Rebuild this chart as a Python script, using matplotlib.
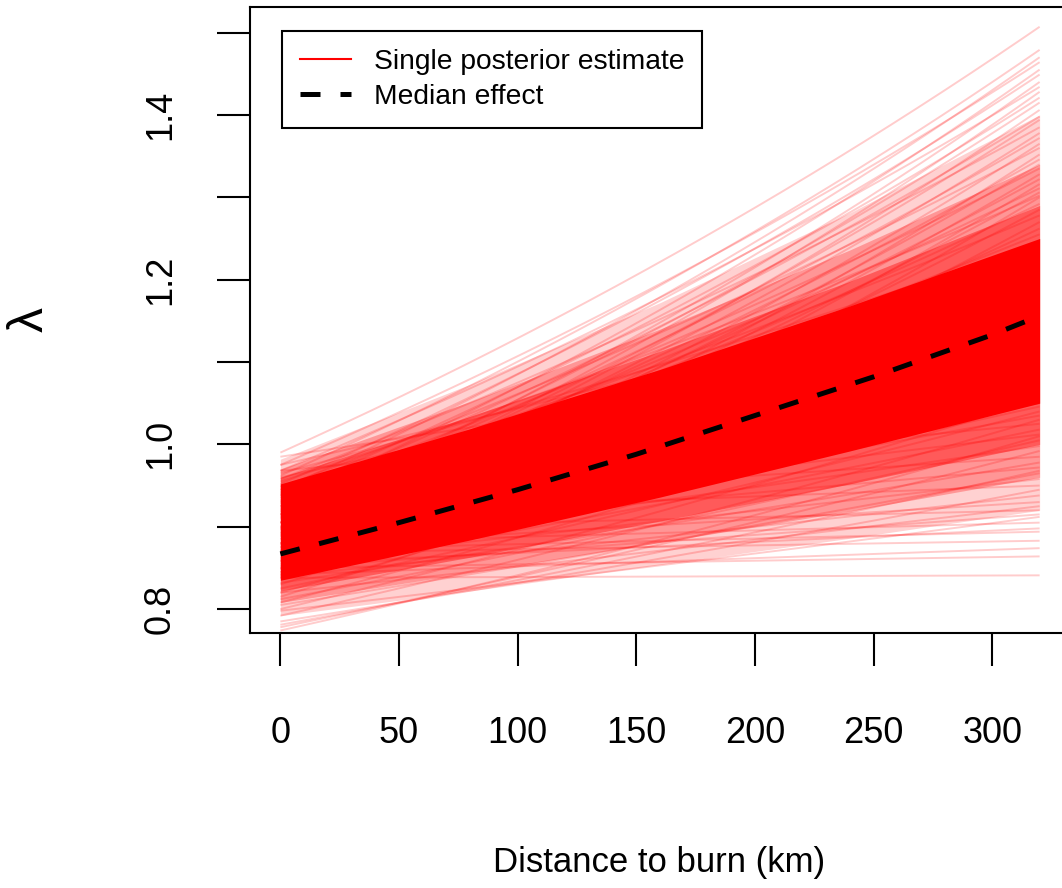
import numpy as np
import matplotlib
matplotlib.use("Agg")
import matplotlib.pyplot as plt
from matplotlib.lines import Line2D

plt.rcParams['font.family'] = ['Liberation Sans', 'DejaVu Sans']

# posterior draws, given as lambda at distance 0 and at distance 320 km
lam_start = [
    0.990, 0.962, 0.945, 0.975, 0.930, 0.952, 0.915, 0.968, 0.905, 0.940, 0.922, 0.898, 0.935, 0.910,
    0.958, 0.900, 0.925, 0.885, 0.948, 0.870, 0.912, 0.893, 0.938, 0.878, 0.905, 0.862, 0.928, 0.888,
    0.955, 0.848, 0.918, 0.875, 0.942, 0.858, 0.896, 0.932,
    0.965, 0.842, 0.905, 0.975, 0.852, 0.920, 0.830, 0.960, 0.880, 0.815, 0.945, 0.868, 0.985, 0.820,
    0.900, 0.838, 0.950, 0.808, 0.890, 0.845, 0.968, 0.800, 0.915, 0.860,
    0.825, 0.880, 0.792, 0.938, 0.845, 0.905, 0.812, 0.870, 0.778, 0.925, 0.832, 0.892, 0.805, 0.858,
    0.915, 0.785, 0.840, 0.875, 0.820, 0.898, 0.850, 0.798,
    0.838, 0.850, 0.842, 0.868, 0.872, 0.855, 0.880, 0.774, 0.781,
]
lam_end = [
    1.507, 1.479, 1.470, 1.464, 1.455, 1.449, 1.440, 1.434, 1.428, 1.421, 1.415, 1.406, 1.398, 1.394,
    1.385, 1.378, 1.372, 1.365, 1.360, 1.352, 1.346, 1.340, 1.335, 1.328, 1.322, 1.316, 1.311, 1.306,
    1.302, 1.300, 1.292, 1.285, 1.278, 1.270, 1.262, 1.255,
    1.245, 1.238, 1.225, 1.212, 1.205, 1.196, 1.188, 1.180, 1.170, 1.162, 1.150, 1.142, 1.135, 1.128,
    1.118, 1.105, 1.095, 1.088, 1.078, 1.068, 1.060, 1.055, 1.050, 1.046,
    1.040, 1.035, 1.030, 1.025, 1.018, 1.012, 1.005, 0.998, 0.992, 0.985, 0.978, 0.972, 0.965, 0.958,
    0.950, 0.945, 0.938, 0.930, 0.925, 0.920, 0.915, 0.912,
    0.841, 0.864, 0.874, 0.883, 0.894, 0.898, 0.905, 1.010, 0.968,
]
x_max = 320

# density bands of the posterior cloud, from the solid core outwards
band_x = [0, 80, 160, 240, 320]
core_lo = [0.835, 0.884, 0.936, 0.992, 1.050]
core_hi = [0.952, 1.019, 1.091, 1.168, 1.250]
b1_lo = [0.822, 0.863, 0.907, 0.952, 1.000]
b1_hi = [0.960, 1.034, 1.113, 1.198, 1.290]
b2_lo = [0.808, 0.844, 0.881, 0.919, 0.960]
b2_hi = [0.970, 1.052, 1.140, 1.236, 1.340]
b3_lo = [0.792, 0.822, 0.854, 0.886, 0.920]
b3_hi = [0.982, 1.073, 1.172, 1.281, 1.400]

# median effect
med_x = [0, 50, 100, 150, 200, 250, 300, 320]
med_y = [0.867, 0.905, 0.945, 0.988, 1.035, 1.082, 1.133, 1.156]

fig = plt.figure(figsize=(10.62, 8.88), dpi=100)
W, H = 1062, 888
ax_l, ax_r, ax_t, ax_b = 250, 1070, 7, 633
ax = fig.add_axes([ax_l / W, 1 - ax_b / H, (ax_r - ax_l) / W, (ax_b - ax_t) / H])

red = (1, 0, 0)
ax.fill_between(band_x, b3_lo, b3_hi, color=red, alpha=0.18, lw=0)
ax.fill_between(band_x, b2_lo, b2_hi, color=red, alpha=0.28, lw=0)
ax.fill_between(band_x, b1_lo, b1_hi, color=red, alpha=0.4, lw=0)
ax.fill_between(band_x, core_lo, core_hi, color=red, alpha=1.0, lw=0)

xs = np.linspace(0, x_max, 200)
for s, e in zip(lam_start, lam_end):
    b0 = np.log(s)
    b1 = np.log(e / s) / x_max
    ax.plot(xs, np.exp(b0 + b1 * xs), color=red, alpha=0.2, lw=1.4,
            solid_capstyle='butt')

ax.plot(med_x, med_y, color='black', lw=3.6, linestyle=(0, (4, 4)),
        dash_capstyle='butt')

ax.set_xlim(-12.8, 332.8)
ax.set_ylim(0.771, 1.531)

for side in ['left', 'bottom', 'top', 'right']:
    ax.spines[side].set_linewidth(1.5)

ax.set_xticks([0, 50, 100, 150, 200, 250, 300])
ax.set_yticks([0.8, 0.9, 1.0, 1.1, 1.2, 1.3, 1.4, 1.5])
ax.set_yticklabels(['0.8', '', '1.0', '', '1.2', '', '1.4', ''])
ax.tick_params(axis='both', length=24, width=1.5, labelsize=26)
ax.tick_params(axis='x', pad=36)
ax.tick_params(axis='y', pad=28)
for lab in ax.get_yticklabels():
    lab.set_rotation(90)
    lab.set_va('center')

fig.text(659 / W, 1 - 862 / H, 'Distance to burn (km)', fontsize=25,
         ha='center', va='center')
fig.text(30 / W, 1 - 320 / H, 'λ', fontsize=36, rotation=90,
         ha='center', va='center')

handles = [
    Line2D([], [], color='red', lw=1.5),
    Line2D([], [], color='black', lw=3.6, linestyle=(0, (4, 4)), dash_capstyle='butt'),
]
leg = ax.legend(handles, ['Single posterior estimate', 'Median effect'],
                loc='upper left', bbox_to_anchor=((282 - ax_l) / (ax_r - ax_l), (ax_b - 31) / (ax_b - ax_t)),
                fontsize=20.3, frameon=True, fancybox=False, framealpha=1,
                edgecolor='black', handlelength=1.8, handletextpad=0.8,
                labelspacing=0.3, borderpad=0.65, borderaxespad=0)
leg.get_frame().set_linewidth(1.5)

fig.savefig('out.png', dpi=100)
